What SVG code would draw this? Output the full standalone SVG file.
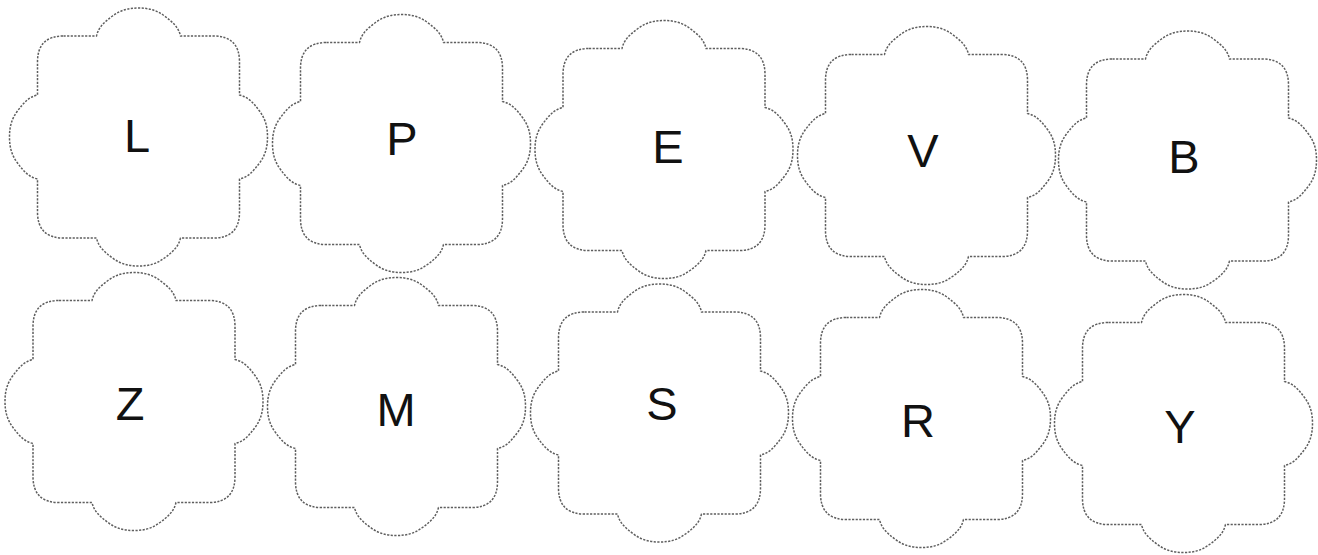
<svg xmlns="http://www.w3.org/2000/svg" xmlns:xlink="http://www.w3.org/1999/xlink" width="1318" height="555" viewBox="0 0 1318 555">
<style>
.petal{fill:#ffffff;stroke:#5e5e5e;stroke-width:1.5;stroke-dasharray:2.2 1.4;stroke-linejoin:round}
.lbl{font-family:"Liberation Sans",Arial,sans-serif;font-size:47px;fill:#111;text-anchor:middle}
</style>
<defs>
<path id="flower" d="M -75,-101 L -42,-101 C -40,-110 -34,-115 -26,-121 C -18,-127 -10,-129 0,-129 C 10,-129 18,-127 26,-121 C 34,-115 40,-110 42,-101 L 75,-101 Q 101,-101 101,-75 L 101,-42 C 110,-40 115,-34 121,-26 C 127,-18 129,-10 129,0 C 129,10 127,18 121,26 C 115,34 110,40 101,42 L 101,75 Q 101,101 75,101 L 42,101 C 40,110 34,115 26,121 C 18,127 10,129 0,129 C -10,129 -18,127 -26,121 C -34,115 -40,110 -42,101 L -75,101 Q -101,101 -101,75 L -101,42 C -110,40 -115,34 -121,26 C -127,18 -129,10 -129,0 C -129,-10 -127,-18 -121,-26 C -115,-34 -110,-40 -101,-42 L -101,-75 Q -101,-101 -75,-101 Z"/>
</defs>
<rect width="1318" height="555" fill="#ffffff"/>
<g id="flower-L"><use xlink:href="#flower" href="#flower" class="petal" transform="translate(138.5,137)"/><text class="lbl" x="137" y="152">L</text></g>
<g id="flower-P"><use xlink:href="#flower" href="#flower" class="petal" transform="translate(401.5,143.5)"/><text class="lbl" x="402" y="155">P</text></g>
<g id="flower-E"><use xlink:href="#flower" href="#flower" class="petal" transform="translate(664,149.5)"/><text class="lbl" x="668" y="163">E</text></g>
<g id="flower-V"><use xlink:href="#flower" href="#flower" class="petal" transform="translate(926.5,155.5)"/><text class="lbl" x="923" y="167">V</text></g>
<g id="flower-B"><use xlink:href="#flower" href="#flower" class="petal" transform="translate(1187.5,160)"/><text class="lbl" x="1184" y="173">B</text></g>
<g id="flower-Z"><use xlink:href="#flower" href="#flower" class="petal" transform="translate(134,401.5)"/><text class="lbl" x="130" y="420">Z</text></g>
<g id="flower-M"><use xlink:href="#flower" href="#flower" class="petal" transform="translate(396.5,406.5)"/><text class="lbl" x="396" y="426">M</text></g>
<g id="flower-S"><use xlink:href="#flower" href="#flower" class="petal" transform="translate(659.5,413)"/><text class="lbl" x="662" y="420">S</text></g>
<g id="flower-R"><use xlink:href="#flower" href="#flower" class="petal" transform="translate(921.5,418.5)"/><text class="lbl" x="918" y="437">R</text></g>
<g id="flower-Y"><use xlink:href="#flower" href="#flower" class="petal" transform="translate(1183.5,423.5)"/><text class="lbl" x="1180" y="443">Y</text></g>
<g id="connectors"></g>
</svg>
